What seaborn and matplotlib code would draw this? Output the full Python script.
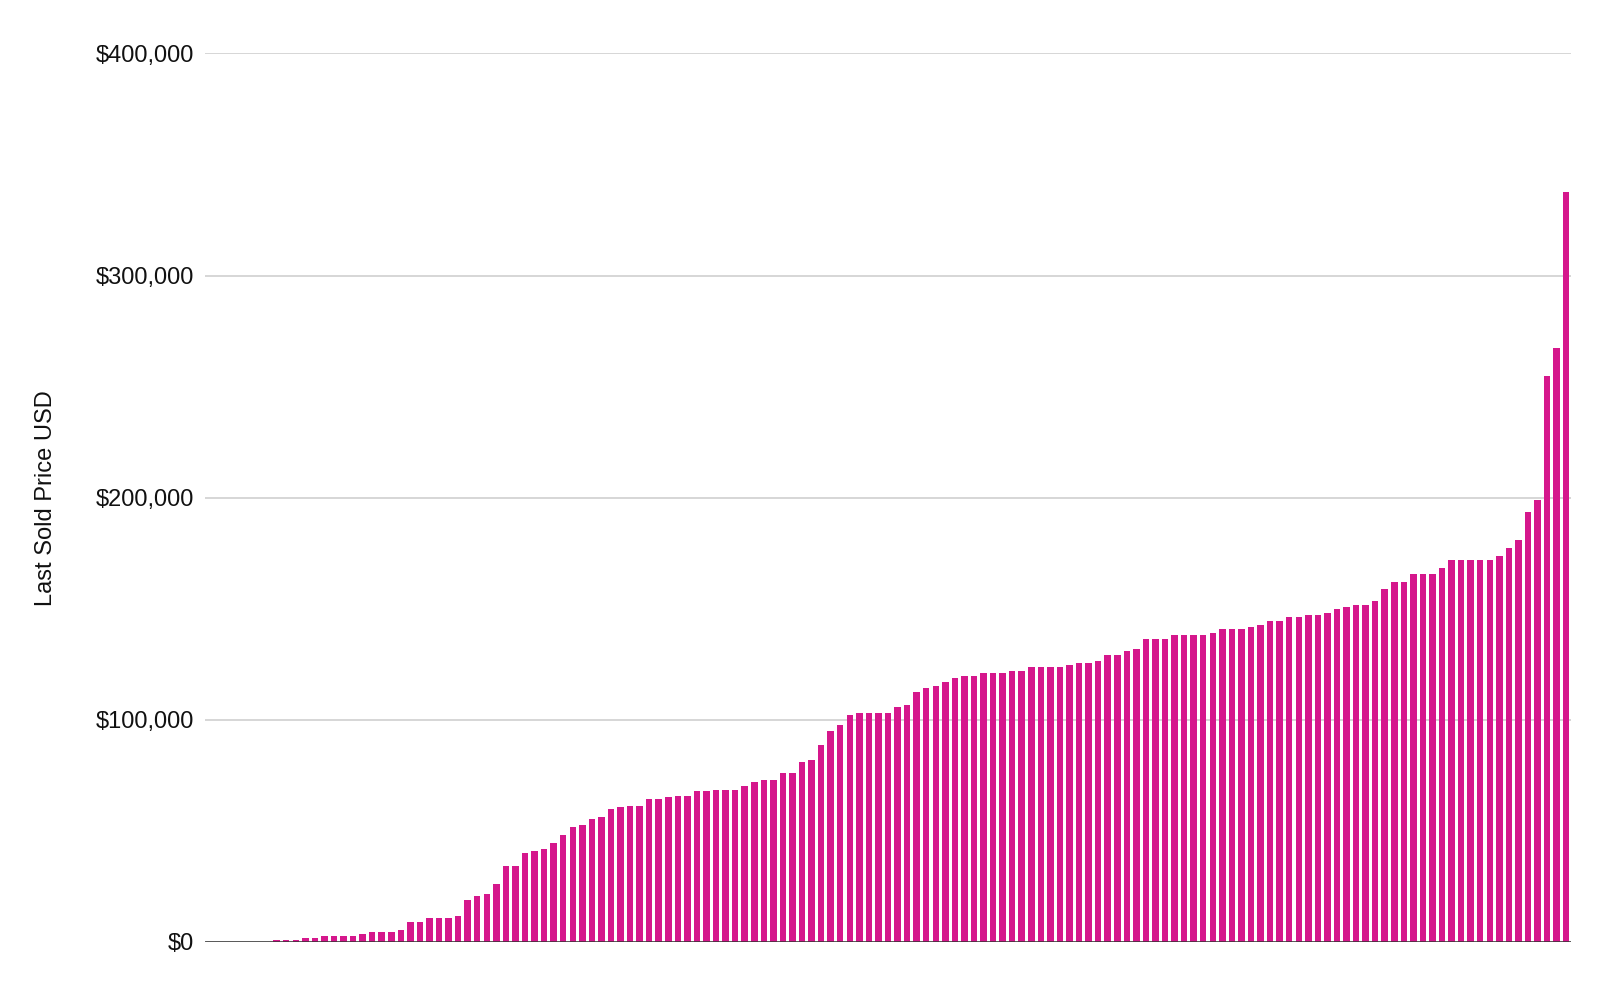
import matplotlib
matplotlib.use("Agg")
import matplotlib.pyplot as plt
from matplotlib.ticker import FuncFormatter, FixedLocator
import seaborn as sns
import pandas as pd

# ---- data (sorted last sold prices, USD) ----
zero_listings = [0, 0, 0, 0, 0, 0, 0]
prices_low = [1000, 1000, 1000, 1800, 1800, 2700, 2700, 2700, 2700, 3600,
              4400, 4400, 4500, 5400, 9200, 9200, 10800, 10800, 10800, 11600,
              18900, 20600, 21600, 26100]
prices_mid1 = [34100, 34100, 39900, 40800, 41700, 44400, 48000, 51700, 52500, 55400,
               56100, 59900, 60600, 61400, 61400, 64200, 64200, 65100, 65900, 65900,
               67800, 67800, 68600, 68600, 68600, 70200, 72200, 73100, 73100]
prices_mid2 = [76000, 76000, 80900, 81800, 88900, 95100, 97800, 102300, 103200, 103200,
               103200, 103200, 106000, 106900, 112600, 114300, 115200, 117000, 118800, 119700,
               119700, 121100, 121100, 121100, 122000, 122000, 123800, 123800, 123800, 123800]
prices_mid3 = [124800, 125700, 125700, 126600, 129300, 129300, 131100, 132000, 136500, 136500,
               136500, 138000, 138000, 138000, 138000, 139000, 140900, 140900, 140900, 141800,
               142700, 144500, 144500, 146200, 146200, 147100, 147100, 148000, 149900]
prices_high = [151000, 151900, 151900, 153300, 158700, 162000, 162000, 165600, 165600, 165600,
               168300, 172000, 172000, 172000, 172000, 172000, 173600, 177200, 180800, 193500,
               198900, 254700, 267300, 337500]
y_ticks = [0, 100000, 200000, 300000, 400000]
y_label = "Last Sold Price USD"

prices = zero_listings + prices_low + prices_mid1 + prices_mid2 + prices_mid3 + prices_high
df = pd.DataFrame({"item": [str(i) for i in range(len(prices))], "price": prices})

BAR_COLOR = "#D5178C"

sns.set_theme(style="white")
plt.rcParams["font.family"] = ["Liberation Sans", "DejaVu Sans"]

fig = plt.figure(figsize=(16.12, 9.91), dpi=100)
ax = fig.add_axes([205 / 1612, 1 - 942 / 991, 1366 / 1612, (942 - 53.5) / 991])

sns.barplot(data=df, x="item", y="price", order=df["item"].tolist(),
            color=BAR_COLOR, saturation=1, width=0.68, linewidth=0, ax=ax, zorder=2)

ax.set_xlim(-0.5, len(prices) - 0.5)
ax.set_ylim(0, 400000)
ax.yaxis.set_major_locator(FixedLocator(y_ticks))
ax.yaxis.set_major_formatter(FuncFormatter(lambda v, p: f"${v:,.0f}"))
ax.set_xticks([])
ax.set_xlabel("")
ax.set_ylabel(y_label, fontsize=17, color="#111111")
ax.yaxis.set_label_coords(-0.108, 0.5)

ax.tick_params(axis="y", length=0, pad=8, labelsize=17, labelcolor="#111111")
ax.grid(axis="y", color="#cccccc", linewidth=1.1, zorder=0)
ax.set_axisbelow(True)
for s in ax.spines.values():
    s.set_visible(False)
ax.axhline(0, color="#333333", linewidth=1.8, zorder=3)

fig.savefig("out.png", dpi=100, facecolor="white")
